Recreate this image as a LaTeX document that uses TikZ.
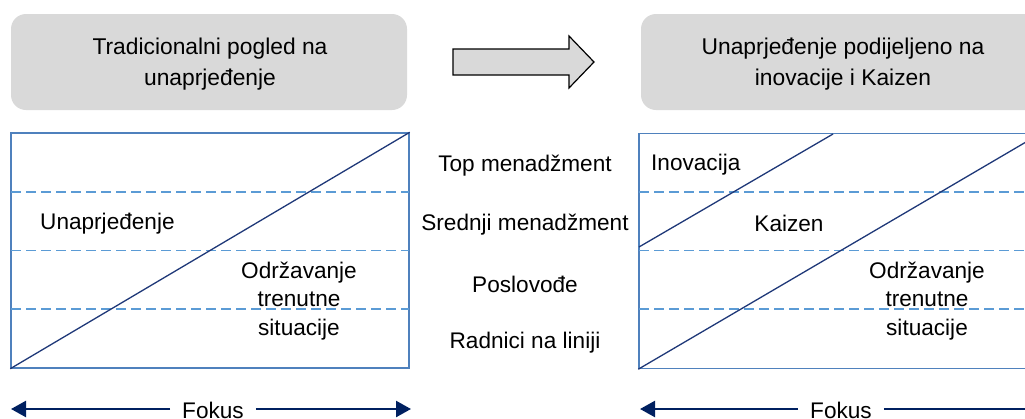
\documentclass[tikz,border=0pt]{standalone}
\usepackage{fontspec}
\setmainfont{Liberation Sans}
\usetikzlibrary{arrows.meta}
\definecolor{hdrgray}{RGB}{217,217,217}
\definecolor{boxblue}{RGB}{79,129,189}
\definecolor{dashblue}{RGB}{91,155,213}
\definecolor{diagnavy}{RGB}{31,56,120}
\definecolor{arrnavy}{RGB}{0,32,96}
\tikzset{
  hdrbox/.style={fill=hdrgray, rounded corners=15pt, minimum height=96pt, inner sep=0pt, align=center, font=\fontsize{22.8}{31}\selectfont},
  framebox/.style={draw=boxblue, line width=1.4pt, minimum height=235pt, inner sep=0pt},
  bandline/.style={draw=dashblue, line width=1.2pt, dash pattern=on 10pt off 5pt},
  diagline/.style={draw=diagnavy, line width=1.3pt},
  lbl/.style={inner sep=0pt, align=center, font=\fontsize{22.6}{28.5}\selectfont},
  fokusarrow/.style={draw=arrnavy, line width=2.4pt, -{Triangle[length=15pt,width=16pt]}},
  bigarrow/.style={fill=hdrgray, draw=black, line width=1.2pt, line join=miter},
}
\begin{document}
\begin{tikzpicture}[x=1pt,y=-1pt]
\useasboundingbox (0,0) rectangle (1025,418);
\clip (0,0) rectangle (1025,418);
% headers
\node[hdrbox, minimum width=396pt] (hdrL) at (209,62) {};
\node[hdrbox, minimum width=404pt] (hdrR) at (843,62) {};
\node[hdrbox, fill=none, minimum height=0pt] (hdrLt) at (210,64.5) {Tradicionalni pogled na\\unaprjeđenje};
\node[hdrbox, fill=none, minimum height=0pt] (hdrRt) at (843,64.5) {Unaprjeđenje podijeljeno na\\inovacije i Kaizen};
% big arrow
\draw[bigarrow] (453,49) -- (569,49) -- (569,36) -- (594,62) -- (569,88) -- (569,75) -- (453,75) -- cycle;
% frames
\node[framebox, minimum width=398pt] (boxL) at (210,250.5) {};
\node[framebox, minimum width=402pt] (boxR) at (840,251) {};
% band lines
\foreach \yy in {192,250.5,309} {
  \draw[bandline] (11,\yy) -- (409,\yy);
  \draw[bandline] (639,\yy) -- (1041,\yy);
}
% diagonals
\draw[diagline] (boxL.south west) -- (boxL.north east);
\draw[diagline] (boxR.south west) -- (boxR.north east);
\coordinate (inoA) at (639,247);
\coordinate (inoB) at (833,134);
\draw[diagline] (inoA) -- (inoB);
% left box labels
\node[lbl, anchor=west] (unap) at (40,224) {Unaprjeđenje};
\node[lbl] (odrL) at (299,301) {Održavanje\\trenutne\\situacije};
% right box labels
\node[lbl, anchor=west] (inov) at (651,165) {Inovacija};
\node[lbl] (kaiz) at (789,223) {Kaizen};
\node[lbl] (odrR) at (927,301) {Održavanje\\trenutne\\situacije};
% middle labels
\node[lbl] (top) at (525,166) {Top menadžment};
\node[lbl] (sred) at (525,225) {Srednji menadžment};
\node[lbl] (posl) at (525,284) {Poslovođe};
\node[lbl] (radn) at (525,343) {Radnici na liniji};
% Fokus arrows
\node[lbl] (fokL) at (213,410) {Fokus};
\node[lbl] (fokR) at (841,410) {Fokus};
\coordinate (fLl) at (11,409);
\coordinate (fLr) at (411,409);
\coordinate (fRl) at (640,409);
\coordinate (fRr) at (1041,409);
\draw[fokusarrow] ([xshift=-12pt]fokL.west |- fLl) -- (fLl);
\draw[fokusarrow] ([xshift=12pt]fokL.east |- fLr) -- (fLr);
\draw[fokusarrow] ([xshift=-12pt]fokR.west |- fRl) -- (fRl);
\draw[fokusarrow] ([xshift=12pt]fokR.east |- fRr) -- (fRr);
\end{tikzpicture}
\end{document}
